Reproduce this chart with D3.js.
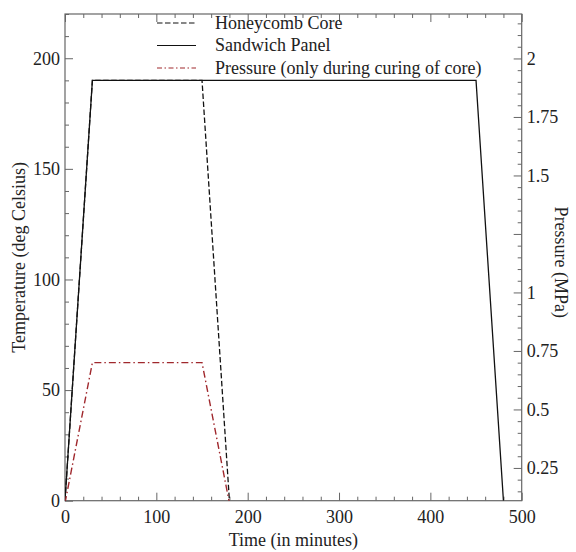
<!DOCTYPE html>
<html>
<head>
<meta charset="utf-8">
<script src="https://cdn.jsdelivr.net/npm/d3@7"></script>
<style>
  html, body { margin: 0; padding: 0; background: #fff; }
  svg text { font-family: "Liberation Serif", "Times New Roman", serif; fill: #222; }
</style>
</head>
<body>
<svg id="chart" width="576" height="552"></svg>
<script>
// ---- data ----
const honeycombTime = [0, 30, 150, 180];
const honeycombTemp = [0, 190, 190, 0];
const sandwichTime = [0, 30, 450, 480];
const sandwichTemp = [0, 190, 190, 0];
const pressureTime = [0, 30, 150, 180];
const pressureMPa = [0.1, 0.7, 0.7, 0.1];

const xMajorTicks = [0, 100, 200, 300, 400, 500];
const leftMajorTicks = [0, 50, 100, 150, 200];
const rightMajorTicks = [0.25, 0.5, 0.75, 1, 1.25, 1.5, 1.75, 2];
const rightLabels = ["0.25", "0.5", "0.75", "1", "", "1.5", "1.75", "2"];
const legendLabels = ["Honeycomb Core", "Sandwich Panel", "Pressure (only during curing of core)"];

// ---- layout ----
const L = 65, R = 521.7, T = 14, B = 500.7;
const svg = d3.select("#chart");
const x = d3.scaleLinear().domain([0, 500]).range([L, R]);
const yL = d3.scaleLinear().domain([0, 220]).range([B, T]);
const yR = d3.scaleLinear().domain([0.11, 2.19]).range([B, T]);

const xMinor = d3.range(0, 501, 20).filter(v => v % 100 !== 0);
const leftMinor = d3.range(0, 221, 10).filter(v => v % 50 !== 0);
const rightMinor = d3.range(0.15, 2.19, 0.05).map(v => +v.toFixed(2))
  .filter(v => Math.abs(v / 0.25 - Math.round(v / 0.25)) > 1e-6);

const axisColor = "#666";
const fs = "18px";
const ff = '"Liberation Serif", "Times New Roman", serif';

function styleAxis(g) {
  g.attr("font-family", null).attr("font-size", null);
  g.select(".domain").remove();
  g.selectAll(".tick line").attr("stroke", axisColor).attr("stroke-width", 1);
  g.selectAll(".tick text").style("font-size", fs).attr("fill", "#222")
    .style("font-family", ff);
}

// bottom
svg.append("g").attr("transform", `translate(0,${B})`)
  .call(d3.axisBottom(x).tickValues(xMajorTicks).tickSize(-8).tickPadding(10).tickFormat(d3.format("d")))
  .call(styleAxis);
svg.append("g").attr("transform", `translate(0,${B})`)
  .call(d3.axisBottom(x).tickValues(xMinor).tickSize(-4).tickFormat(""))
  .call(styleAxis);
// top
svg.append("g").attr("transform", `translate(0,${T})`)
  .call(d3.axisTop(x).tickValues(xMajorTicks).tickSize(-8).tickFormat(""))
  .call(styleAxis);
svg.append("g").attr("transform", `translate(0,${T})`)
  .call(d3.axisTop(x).tickValues(xMinor).tickSize(-4).tickFormat(""))
  .call(styleAxis);
// left
svg.append("g").attr("transform", `translate(${L},0)`)
  .call(d3.axisLeft(yL).tickValues(leftMajorTicks).tickSize(-8).tickPadding(5).tickFormat(d3.format("d")))
  .call(styleAxis);
svg.append("g").attr("transform", `translate(${L},0)`)
  .call(d3.axisLeft(yL).tickValues(leftMinor).tickSize(-4).tickFormat(""))
  .call(styleAxis);
// right
svg.append("g").attr("transform", `translate(${R},0)`)
  .call(d3.axisRight(yR).tickValues(rightMajorTicks).tickSize(-8).tickPadding(5)
    .tickFormat((d, i) => rightLabels[i]))
  .call(styleAxis);
svg.append("g").attr("transform", `translate(${R},0)`)
  .call(d3.axisRight(yR).tickValues(rightMinor).tickSize(-4).tickFormat(""))
  .call(styleAxis);

// frame
svg.append("rect").attr("x", L).attr("y", T).attr("width", R - L).attr("height", B - T)
  .attr("fill", "none").attr("stroke", axisColor).attr("stroke-width", 1.2);

// clip
svg.append("clipPath").attr("id", "plotclip").append("rect")
  .attr("x", L).attr("y", T).attr("width", R - L).attr("height", B - T);

const plot = svg.append("g").attr("clip-path", "url(#plotclip)");
const lineL = d3.line().x(d => x(d[0])).y(d => yL(d[1]));
const lineR = d3.line().x(d => x(d[0])).y(d => yR(d[1]));

const dashHC = "5.5,2.5";
const dashP = "7,3,1.5,3";
const red = "#a0282d";

plot.append("path").datum(d3.zip(sandwichTime, sandwichTemp)).attr("d", lineL)
  .attr("fill", "none").attr("stroke", "#111").attr("stroke-width", 1.3);
plot.append("path").datum(d3.zip(honeycombTime, honeycombTemp)).attr("d", lineL)
  .attr("fill", "none").attr("stroke", "#111").attr("stroke-width", 1.3).attr("stroke-dasharray", dashHC);
plot.append("path").datum(d3.zip(pressureTime, pressureMPa)).attr("d", lineR)
  .attr("fill", "none").attr("stroke", red).attr("stroke-width", 1.4).attr("stroke-dasharray", dashP);

// legend
const legStyles = [
  { stroke: "#111", dash: dashHC },
  { stroke: "#111", dash: null },
  { stroke: red, dash: "5,2.5,1.5,2.5" }
];
const legY = [23, 45.5, 68];
legendLabels.forEach((lab, i) => {
  const g = svg.append("g");
  g.append("line").attr("x1", 157).attr("x2", 196).attr("y1", legY[i]).attr("y2", legY[i])
    .attr("stroke", legStyles[i].stroke).attr("stroke-width", 1.2)
    .attr("stroke-dasharray", legStyles[i].dash);
  g.append("text").attr("x", 215).attr("y", legY[i] + 5.5).style("font-size", fs).text(lab);
});

// axis titles
svg.append("text").attr("x", (L + R) / 2).attr("y", 546).attr("text-anchor", "middle")
  .style("font-size", fs).text("Time (in minutes)");
svg.append("text").attr("transform", `translate(25,${(T + B) / 2}) rotate(-90)`)
  .attr("text-anchor", "middle").style("font-size", fs).text("Temperature (deg Celsius)");
svg.append("text").attr("transform", `translate(555,${(T + B) / 2 + 5}) rotate(90)`)
  .attr("text-anchor", "middle").style("font-size", fs).text("Pressure (MPa)");
</script>
</body>
</html>
